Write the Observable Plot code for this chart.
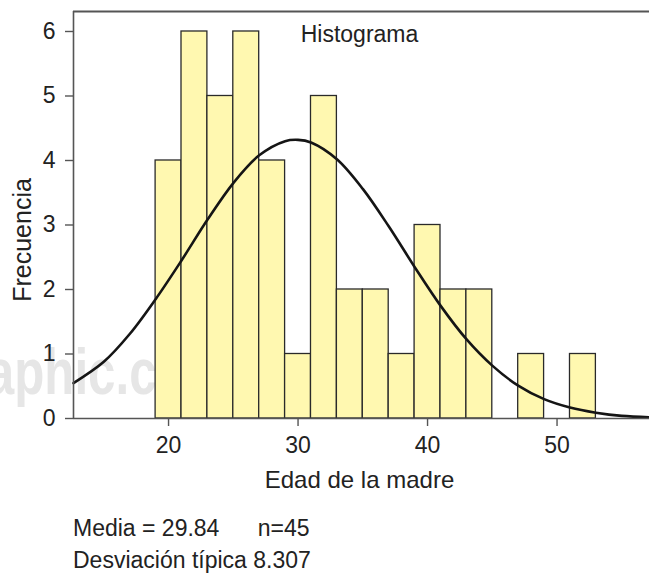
<!DOCTYPE html>
<html>
<head>
<meta charset="utf-8">
<script src="https://cdn.jsdelivr.net/npm/d3@7"></script>
<script src="https://cdn.jsdelivr.net/npm/@observablehq/plot@0.6"></script>
<style>
  body { margin: 0; background: white; font-family: "Liberation Sans", Arial, sans-serif; }
  #chart svg { display: block; }
  #caption { margin: 12px 0 0 73px; font-size: 23px; line-height: 32px; color: #222; white-space: pre; }
</style>
</head>
<body>
<div id="chart"></div>
<div id="caption"></div>
<script>
// Histogram bins (width 2) and counts
const binStart = [19, 21, 23, 25, 27, 29, 31, 33, 35, 37, 39, 41, 43, 45, 47, 49, 51];
const counts   = [ 4,  6,  5,  6,  4,  1,  5,  2,  2,  1,  3,  2,  2,  0,  1,  0,  1];
const binWidth = 2;

// Fitted curve points
const curveX = [12.66, 15, 17, 19, 21, 23, 25, 27, 29, 30, 31, 33, 35, 37, 39, 41, 43, 45, 47, 49, 51, 53, 55, 57.14];
const curveY = [0.55, 0.88, 1.31, 1.85, 2.45, 3.08, 3.65, 4.08, 4.30, 4.32, 4.28, 4.02, 3.56, 2.98, 2.35, 1.75, 1.23, 0.82, 0.51, 0.30, 0.17, 0.09, 0.04, 0.02];

const xTicks = [20, 30, 40, 50];
const yTicks = [0, 1, 2, 3, 4, 5, 6];
const xDomain = [12.66, 57.14];
const yDomain = [0, 6.31];

const title = "Histograma";
const xLabel = "Edad de la madre";
const yLabel = "Frecuencia";
const watermark = "graphic.com";
const captionLines = ["Media = 29.84      n=45", "Desviación típica 8.307"];

const bins = binStart.map((s, i) => ({x1: s, x2: s + binWidth, y: counts[i]})).filter(d => d.y > 0);
const curve = curveX.map((x, i) => ({x, y: curveY[i]}));

const font = "Liberation Sans, Arial, Helvetica, sans-serif";

const chart = Plot.plot({
  width: 649,
  height: 500,
  marginLeft: 73,
  marginRight: 0,
  marginTop: 11,
  marginBottom: 82,
  style: {fontSize: "23px", fontFamily: font, color: "#222", background: "white", overflow: "visible"},
  x: {domain: xDomain},
  y: {domain: yDomain},
  marks: [
    Plot.text([watermark], {
      frameAnchor: "bottom-left", textAnchor: "start", lineAnchor: "bottom",
      dx: -136, dy: -25, fontSize: 64, fontWeight: "bold",
      fill: "#e6e6e6", clip: false
    }),
    Plot.rectY(bins, {x1: "x1", x2: "x2", y: "y", fill: "#fff8b0", stroke: "#2a2a2a", strokeWidth: 1.3, inset: 0}),
    Plot.line(curve, {x: "x", y: "y", stroke: "#151515", strokeWidth: 2.6, curve: "catmull-rom"}),
    Plot.ruleX([xDomain[0]], {stroke: "#555", strokeWidth: 1.6}),
    Plot.ruleY([0], {stroke: "#555", strokeWidth: 1.6}),
    Plot.ruleY([yDomain[1]], {stroke: "#555", strokeWidth: 1.8}),
    Plot.axisX({ticks: xTicks, tickSize: 8, tickPadding: 10, label: null, stroke: "#555", strokeWidth: 1.4}),
    Plot.axisY({ticks: yTicks, tickFormat: "d", tickSize: 8, tickPadding: 10, label: null, stroke: "#555", strokeWidth: 1.4}),
    Plot.text([title], {frameAnchor: "top", lineAnchor: "middle", dx: -2, dy: 23, fontSize: 23}),
    Plot.text([xLabel], {frameAnchor: "bottom", lineAnchor: "middle", dx: -2, dy: 62, fontSize: 24}),
    Plot.text([yLabel], {frameAnchor: "left", textAnchor: "middle", lineAnchor: "middle", rotate: -90, dx: -51, dy: 25, fontSize: 25})
  ]
});
// condense the watermark glyphs to match the narrow lettering of the reference
d3.select(chart).selectAll("text")
  .filter(function() { return this.textContent === watermark; })
  .attr("textLength", 293).attr("lengthAdjust", "spacingAndGlyphs");
document.getElementById("chart").appendChild(chart);
document.getElementById("caption").textContent = captionLines.join("\n");
</script>
</body>
</html>
